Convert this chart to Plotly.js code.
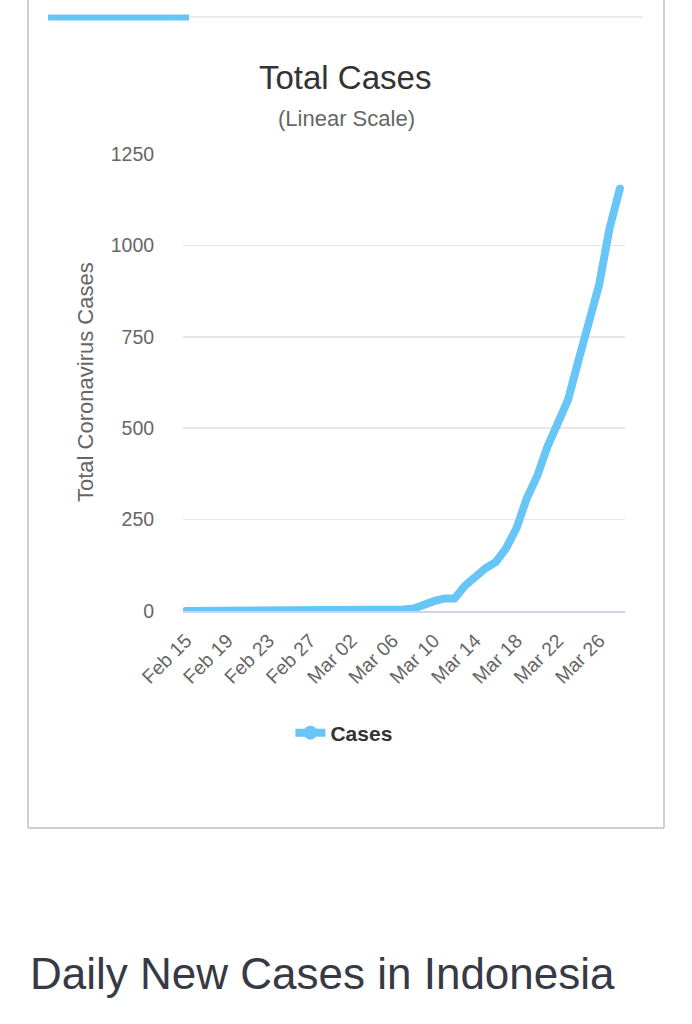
<!DOCTYPE html>
<html>
<head>
<meta charset="utf-8">
<script src="https://cdn.plot.ly/plotly-3.0.1.min.js"></script>
<style>
  html, body { margin: 0; padding: 0; background: #fff; }
  #chart { width: 692px; height: 1024px; }
</style>
</head>
<body>
<div id="chart"></div>
<script>
// total cases in Indonesia
var dates = [
  '2020-02-15', '2020-02-16', '2020-02-17', '2020-02-18', '2020-02-19', '2020-02-20',
  '2020-02-21', '2020-02-22', '2020-02-23', '2020-02-24', '2020-02-25', '2020-02-26',
  '2020-02-27', '2020-02-28', '2020-02-29', '2020-03-01', '2020-03-02', '2020-03-03',
  '2020-03-04', '2020-03-05', '2020-03-06', '2020-03-07', '2020-03-08', '2020-03-09',
  '2020-03-10', '2020-03-11', '2020-03-12', '2020-03-13', '2020-03-14', '2020-03-15',
  '2020-03-16', '2020-03-17', '2020-03-18', '2020-03-19', '2020-03-20', '2020-03-21',
  '2020-03-22', '2020-03-23', '2020-03-24', '2020-03-25', '2020-03-26', '2020-03-27',
  '2020-03-28'
];
var cases = [
  0, 0, 0, 0, 0, 0,
  0, 0, 0, 0, 0, 0,
  0, 0, 0, 0, 2, 2,
  2, 2, 4, 4, 6, 19,
  27, 34, 34, 69, 96, 117,
  134, 172, 227, 309, 369, 450,
  514, 579, 686, 790, 893, 1046,
  1155
];
var yTicks = [0, 250, 500, 750, 1000, 1250];
var xTicks = dates.filter(function (d, i) { return i % 4 == 0; });

var seriesName = 'Cases';
var titleText = 'Total Cases';
var subtitleText = '(Linear Scale)';
var yTitleText = 'Total Coronavirus Cases';
var headingText = 'Daily New Cases in Indonesia';

var lineColor = '#67c6f5';

// plot box in pixels
var L = 183, T = 154, W = 442, H = 457;
function px(x) { return (x - L) / W; }
function py(y) { return (T + H - y) / H; }

var data = [
  {
    type: 'scatter',
    mode: 'lines',
    x: dates,
    y: cases,
    name: seriesName,
    showlegend: false,
    line: {color: lineColor, width: 8, shape: 'linear'},
    hoverinfo: 'x+y'
  },
  {
    // legend entry only (line with a dot, like the original)
    type: 'scatter',
    mode: 'lines+markers',
    x: [null],
    y: [null],
    name: seriesName,
    line: {color: lineColor, width: 8},
    marker: {color: lineColor, size: 14}
  }
];

var layout = {
  width: 692,
  height: 1024,
  margin: {l: L, r: 692 - L - W, t: T, b: 1024 - T - H, pad: 0},
  paper_bgcolor: '#ffffff',
  plot_bgcolor: '#ffffff',
  font: {family: 'Liberation Sans, Arial, sans-serif', color: '#666666'},
  showlegend: true,
  legend: {
    orientation: 'h',
    xref: 'container', yref: 'container',
    x: 0.497, xanchor: 'center',
    y: 1 - 733 / 1024, yanchor: 'middle',
    font: {size: 21, color: '#333333', weight: 'bold'},
    itemwidth: 30,
    bgcolor: 'rgba(0,0,0,0)'
  },
  xaxis: {
    type: 'date',
    range: ['2020-02-14 17:00', '2020-03-28 12:00'],
    tickvals: xTicks,
    tickformat: '%b %d',
    tickangle: -45,
    ticks: 'outside',
    ticklen: 9,
    tickcolor: 'rgba(0,0,0,0)',
    tickfont: {size: 19.5, color: '#666666'},
    showgrid: false,
    showline: true,
    linecolor: '#ccd6eb',
    linewidth: 1.5,
    zeroline: false,
    fixedrange: true
  },
  yaxis: {
    range: [0, 1250],
    tickvals: yTicks,
    ticks: 'outside',
    ticklen: 24,
    tickcolor: 'rgba(0,0,0,0)',
    tickfont: {size: 19.5, color: '#666666'},
    showgrid: true,
    gridcolor: '#e6e6e6',
    gridwidth: 1.5,
    zeroline: false,
    showline: false,
    fixedrange: true
  },
  annotations: [
    {
      text: titleText, xref: 'paper', yref: 'paper',
      x: px(345), y: py(77), xanchor: 'center', yanchor: 'middle',
      showarrow: false, font: {size: 33, color: '#333333'}
    },
    {
      text: subtitleText, xref: 'paper', yref: 'paper',
      x: px(346), y: py(118), xanchor: 'center', yanchor: 'middle',
      showarrow: false, font: {size: 22, color: '#666666'}
    },
    {
      text: yTitleText, xref: 'paper', yref: 'paper',
      x: px(85), y: py(382), xanchor: 'center', yanchor: 'middle',
      textangle: -90,
      showarrow: false, font: {size: 22, color: '#666666'}
    },
    {
      text: headingText, xref: 'paper', yref: 'paper',
      x: px(28), y: py(973), xanchor: 'left', yanchor: 'middle',
      showarrow: false, font: {size: 44, color: '#373a45'}
    }
  ],
  shapes: [
    // card outline (top is off-screen)
    {type: 'line', xref: 'paper', yref: 'paper', x0: px(28), x1: px(28), y0: py(-5), y1: py(828),
     line: {color: '#cfcfcf', width: 2}},
    {type: 'line', xref: 'paper', yref: 'paper', x0: px(664), x1: px(664), y0: py(-5), y1: py(828),
     line: {color: '#cfcfcf', width: 2}},
    {type: 'line', xref: 'paper', yref: 'paper', x0: px(28), x1: px(664), y0: py(828), y1: py(828),
     line: {color: '#cfcfcf', width: 2}},
    // tab divider with active tab bar
    {type: 'line', xref: 'paper', yref: 'paper', x0: px(48), x1: px(643), y0: py(17), y1: py(17),
     line: {color: '#ebebeb', width: 2}},
    {type: 'rect', xref: 'paper', yref: 'paper', x0: px(48), x1: px(189), y0: py(14.5), y1: py(20.5),
     line: {width: 0}, fillcolor: lineColor}
  ]
};

Plotly.newPlot('chart', data, layout, {displayModeBar: false, staticPlot: true}).then(function (gd) {
  // round line ends like the original chart
  gd.querySelectorAll('.scatterlayer .js-line').forEach(function (p) {
    p.style.strokeLinecap = 'round';
  });
});
</script>
</body>
</html>
